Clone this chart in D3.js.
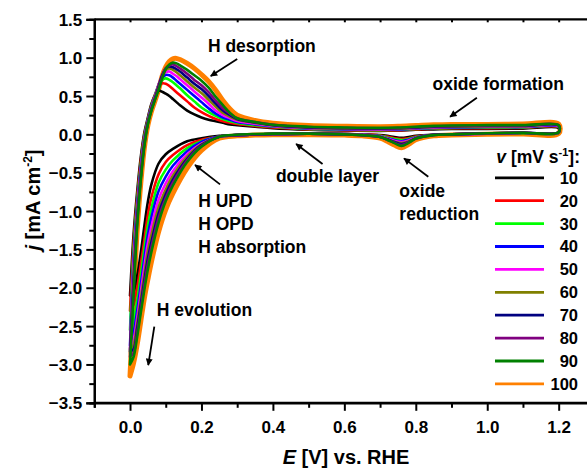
<!DOCTYPE html>
<html>
<head>
<meta charset="utf-8">
<script src="https://cdn.jsdelivr.net/npm/d3@7"></script>
<style>
  html, body { margin: 0; padding: 0; background: #fff; }
  svg { display: block; }
  text { font-family: "Liberation Sans", Arial, sans-serif; font-weight: bold; fill: #000; }
</style>
</head>
<body>
<svg id="chart" width="587" height="470"></svg>
<script>
// ---------------- DATA ----------------
const scanRates = [10, 20, 30, 40, 50, 60, 70, 80, 90, 100];
const seriesColors = ["#000000", "#ff0000", "#00ff00", "#0000ff", "#ff00ff",
                      "#808000", "#000080", "#800080", "#008000", "#ff8000"];

// potential grid of the positive (anodic) scan, V vs. RHE
const E_up = [0.00, 0.01, 0.02, 0.03, 0.04, 0.05, 0.06, 0.07, 0.08, 0.09, 0.10, 0.11, 0.12, 0.13, 0.14,
              0.16, 0.18, 0.20, 0.22, 0.24, 0.26, 0.28, 0.30, 0.35, 0.40, 0.50, 0.60, 0.70, 0.75, 0.80,
              0.85, 0.90, 1.00, 1.10, 1.20];
// potential grid of the negative (cathodic) scan
const E_down = [1.20, 1.10, 1.00, 0.90, 0.85, 0.80, 0.78, 0.76, 0.74, 0.72, 0.70, 0.65, 0.60, 0.50, 0.40,
                0.35, 0.30, 0.25, 0.20, 0.16, 0.12, 0.10, 0.08, 0.06, 0.05, 0.04, 0.03, 0.02, 0.01, 0.00];

// current density j [mA cm-2], positive scan
const jUp10  = [-2.10,-1.30,-0.75,-0.30,0.02,0.22,0.40,0.51,0.57,0.555,0.53,0.50,0.46,0.42,0.38,0.31,0.26,0.22,0.19,0.17,0.15,0.13,0.12,0.10,0.08,0.06,0.05,0.045,0.05,0.06,0.065,0.07,0.07,0.075,0.08];
const jUp20  = [-2.30,-1.40,-0.82,-0.35,-0.01,0.20,0.38,0.52,0.62,0.665,0.66,0.63,0.59,0.55,0.51,0.43,0.35,0.29,0.24,0.20,0.17,0.15,0.135,0.11,0.09,0.065,0.055,0.05,0.055,0.065,0.075,0.08,0.08,0.085,0.09];
const jUp30  = [-2.55,-1.50,-0.88,-0.40,-0.03,0.19,0.37,0.51,0.64,0.71,0.73,0.71,0.68,0.64,0.60,0.51,0.43,0.35,0.29,0.24,0.20,0.17,0.15,0.12,0.10,0.07,0.06,0.055,0.06,0.07,0.08,0.085,0.09,0.09,0.095];
const jUp40  = [-2.75,-1.60,-0.94,-0.44,-0.06,0.18,0.36,0.50,0.65,0.74,0.775,0.77,0.74,0.70,0.66,0.58,0.50,0.42,0.34,0.27,0.22,0.19,0.16,0.13,0.105,0.075,0.065,0.06,0.065,0.075,0.085,0.09,0.095,0.095,0.10];
const jUp50  = [-2.80,-1.70,-1.00,-0.48,-0.08,0.17,0.35,0.49,0.65,0.76,0.81,0.82,0.79,0.76,0.72,0.64,0.56,0.48,0.40,0.31,0.25,0.21,0.175,0.14,0.11,0.08,0.07,0.065,0.07,0.08,0.09,0.095,0.10,0.10,0.105];
const jUp60  = [-2.85,-1.80,-1.05,-0.52,-0.10,0.16,0.34,0.48,0.64,0.77,0.84,0.86,0.84,0.81,0.77,0.69,0.61,0.54,0.45,0.36,0.28,0.23,0.19,0.15,0.115,0.085,0.075,0.07,0.075,0.085,0.095,0.10,0.105,0.105,0.11];
const jUp70  = [-2.83,-1.90,-1.10,-0.55,-0.12,0.15,0.33,0.47,0.62,0.77,0.86,0.885,0.875,0.85,0.82,0.74,0.66,0.59,0.50,0.40,0.31,0.25,0.20,0.155,0.12,0.09,0.08,0.075,0.08,0.09,0.10,0.105,0.11,0.11,0.115];
const jUp80  = [-2.90,-2.00,-1.15,-0.58,-0.14,0.14,0.32,0.46,0.60,0.75,0.86,0.90,0.91,0.89,0.86,0.79,0.71,0.64,0.55,0.44,0.34,0.27,0.21,0.16,0.125,0.095,0.085,0.08,0.085,0.095,0.105,0.11,0.115,0.115,0.12];
const jUp90  = [-3.00,-2.10,-1.20,-0.61,-0.16,0.13,0.31,0.45,0.58,0.73,0.85,0.91,0.935,0.925,0.90,0.84,0.77,0.70,0.61,0.49,0.38,0.28,0.21,0.16,0.125,0.10,0.09,0.085,0.09,0.10,0.11,0.115,0.12,0.12,0.12];
const jUp100 = [-3.15,-2.20,-1.25,-0.64,-0.18,0.12,0.30,0.44,0.58,0.76,0.88,0.95,0.985,0.99,0.975,0.925,0.86,0.78,0.69,0.575,0.44,0.33,0.25,0.18,0.145,0.115,0.105,0.10,0.105,0.115,0.125,0.13,0.13,0.135,0.135];

// current density j [mA cm-2], negative scan
const jDown10  = [0.02,0.015,0.01,0.00,-0.005,-0.02,-0.035,-0.045,-0.035,-0.02,-0.01,0.00,0.005,0.01,0.005,0.00,-0.01,-0.02,-0.05,-0.09,-0.19,-0.26,-0.38,-0.65,-0.88,-1.20,-1.55,-1.85,-2.05,-2.10];
const jDown20  = [0.02,0.015,0.01,0.00,-0.005,-0.03,-0.05,-0.06,-0.05,-0.03,-0.015,0.00,0.005,0.01,0.005,0.00,-0.01,-0.03,-0.07,-0.14,-0.27,-0.36,-0.52,-0.82,-1.05,-1.38,-1.70,-2.00,-2.22,-2.30];
const jDown30  = [0.02,0.015,0.01,0.00,-0.005,-0.035,-0.06,-0.075,-0.06,-0.04,-0.02,-0.005,0.005,0.01,0.005,0.00,-0.01,-0.03,-0.09,-0.18,-0.34,-0.46,-0.63,-0.96,-1.19,-1.50,-1.84,-2.17,-2.42,-2.55];
const jDown40  = [0.025,0.02,0.01,0.00,-0.005,-0.04,-0.07,-0.09,-0.075,-0.05,-0.025,-0.005,0.005,0.01,0.005,0.00,-0.01,-0.03,-0.10,-0.22,-0.41,-0.55,-0.74,-1.08,-1.31,-1.62,-1.97,-2.30,-2.58,-2.75];
const jDown50  = [0.025,0.02,0.01,0.00,-0.005,-0.045,-0.08,-0.10,-0.085,-0.055,-0.03,-0.005,0.005,0.01,0.005,0.00,-0.01,-0.03,-0.12,-0.26,-0.48,-0.64,-0.85,-1.20,-1.42,-1.73,-2.07,-2.40,-2.68,-2.80];
const jDown60  = [0.025,0.02,0.015,0.00,-0.005,-0.05,-0.09,-0.115,-0.095,-0.06,-0.03,-0.01,0.005,0.01,0.005,0.00,-0.01,-0.03,-0.13,-0.29,-0.54,-0.72,-0.95,-1.31,-1.52,-1.83,-2.15,-2.47,-2.75,-2.85];
const jDown70  = [0.03,0.02,0.015,0.00,-0.005,-0.05,-0.10,-0.125,-0.10,-0.065,-0.035,-0.01,0.00,0.01,0.005,0.00,-0.01,-0.03,-0.14,-0.32,-0.59,-0.78,-1.03,-1.40,-1.62,-1.91,-2.22,-2.53,-2.80,-2.83];
const jDown80  = [0.03,0.02,0.015,0.00,-0.01,-0.055,-0.105,-0.14,-0.11,-0.07,-0.035,-0.01,0.00,0.01,0.005,0.00,-0.01,-0.03,-0.15,-0.34,-0.63,-0.83,-1.09,-1.47,-1.69,-1.97,-2.28,-2.59,-2.85,-2.90];
const jDown90  = [0.03,0.02,0.015,0.00,-0.01,-0.055,-0.11,-0.15,-0.115,-0.07,-0.035,-0.01,0.00,0.01,0.01,0.005,-0.005,-0.03,-0.16,-0.36,-0.67,-0.87,-1.15,-1.53,-1.76,-2.03,-2.33,-2.64,-2.90,-3.00];
const jDown100 = [0.01,0.005,0.00,-0.01,-0.02,-0.07,-0.13,-0.175,-0.14,-0.09,-0.05,-0.02,-0.01,-0.005,-0.005,-0.01,-0.02,-0.05,-0.21,-0.44,-0.77,-0.98,-1.27,-1.66,-1.89,-2.14,-2.44,-2.74,-2.98,-3.15];

const xTickValues = [0.0, 0.2, 0.4, 0.6, 0.8, 1.0, 1.2];
const yTickValues = [-3.5, -3.0, -2.5, -2.0, -1.5, -1.0, -0.5, 0.0, 0.5, 1.0, 1.5];

// annotations: text lines, anchor (E, j)
const annotTexts = [
  { lines: ["H desorption"], E: 0.218, j: 1.073, anchor: "start" },
  { lines: ["oxide formation"], E: 0.847, j: 0.578, anchor: "start" },
  { lines: ["double layer"], E: 0.697, j: -0.622, anchor: "end" },
  { lines: ["oxide", "reduction"], E: 0.754, j: -0.814, anchor: "start" },
  { lines: ["H UPD", "H OPD", "H absorption"], E: 0.191, j: -0.948, anchor: "start" },
  { lines: ["H evolution"], E: 0.075, j: -2.369, anchor: "start" }
];
// arrows: from (E,j) to (E,j)
const arrowFrom = [[0.300, 0.982], [0.971, 0.477], [0.539, -0.387], [0.835, -0.553], [0.252, -0.652], [0.068, -2.508]];
const arrowTo   = [[0.226, 0.760], [0.896, 0.229], [0.465, -0.126], [0.767, -0.313], [0.182, -0.400], [0.051, -3.008]];

// ---------------- BUILD ----------------
const jUp = [jUp10, jUp20, jUp30, jUp40, jUp50, jUp60, jUp70, jUp80, jUp90, jUp100];
const jDown = [jDown10, jDown20, jDown30, jDown40, jDown50, jDown60, jDown70, jDown80, jDown90, jDown100];
const series = scanRates.map((v, i) => ({
  v, color: seriesColors[i],
  points: E_up.map((e, k) => [e, jUp[i][k]]).concat(E_down.map((e, k) => [e, jDown[i][k]]))
}));

const svg = d3.select("#chart");
const x = d3.scaleLinear().domain([-0.1, 1.3]).range([94.3, 594.4]);
const y = d3.scaleLinear().domain([-3.5, 1.5]).range([402.8, 19.3]);

const line = d3.line().x(d => x(d[0])).y(d => y(d[1])).curve(d3.curveCatmullRom.alpha(0.5));

// thick 100 mV/s curve underneath, the others on top
const order = [9, 0, 1, 2, 3, 4, 5, 6, 7, 8];
svg.append("g").selectAll("path").data(order.map(i => series[i])).join("path")
  .attr("d", d => line(d.points))
  .attr("fill", "none")
  .attr("stroke", d => d.color)
  .attr("stroke-width", d => d.v === 100 ? 5 : 2.6)
  .attr("stroke-linejoin", "round")
  .attr("stroke-linecap", "round");

// axes
const xMinor = d3.range(-0.1, 1.31, 0.1).map(v => +v.toFixed(2)).filter(v => !xTickValues.some(t => Math.abs(t - v) < 1e-6));
const yMinor = d3.range(-3.25, 1.5, 0.5).map(v => +v.toFixed(2));

const xAxis = svg.append("g").attr("transform", `translate(0,${y(-3.5)})`)
  .call(d3.axisBottom(x).tickValues(xTickValues).tickSize(8).tickPadding(10).tickFormat(d3.format(".1f")));
const xAxisMinor = svg.append("g").attr("transform", `translate(0,${y(-3.5)})`)
  .call(d3.axisBottom(x).tickValues(xMinor).tickSize(5).tickFormat(""));
const yAxis = svg.append("g").attr("transform", `translate(${x(-0.1)},0)`)
  .call(d3.axisLeft(y).tickValues(yTickValues).tickSize(8).tickPadding(4).tickFormat(d3.format(".1f")));
const yAxisMinor = svg.append("g").attr("transform", `translate(${x(-0.1)},0)`)
  .call(d3.axisLeft(y).tickValues(yMinor).tickSize(5).tickFormat(""));
// top axis (ticks only)
const xTop = svg.append("g").attr("transform", `translate(0,${y(1.5)})`)
  .call(d3.axisBottom(x).tickValues(d3.range(0, 1.31, 0.1).map(v => +v.toFixed(2))).tickSize(3).tickFormat(""));

[xAxis, xAxisMinor, yAxis, yAxisMinor, xTop].forEach(g => {
  g.select(".domain").attr("stroke", "#000").attr("stroke-width", 2.2);
  g.selectAll(".tick line").attr("stroke", "#000").attr("stroke-width", 2);
  g.selectAll(".tick text").attr("font-size", 17).attr("font-weight", "bold")
    .attr("font-family", '"Liberation Sans", Arial, sans-serif').attr("fill", "#000");
});
xTop.select(".domain").attr("d", `M${x(-0.1)},0H587`);
xAxis.select(".domain").attr("d", `M${x(-0.1)},0H587`);
yAxis.selectAll(".tick text").attr("dy", "0.36em");

// axis titles
const xt = svg.append("text").attr("x", 346).attr("y", 464).attr("text-anchor", "middle").attr("font-size", 20);
xt.append("tspan").attr("font-style", "italic").text("E");
xt.append("tspan").text(" [V] vs. RHE");

const yt = svg.append("text").attr("transform", "translate(40,200) rotate(-90)").attr("text-anchor", "middle").attr("font-size", 20);
yt.append("tspan").attr("font-style", "italic").text("j");
yt.append("tspan").text(" [mA cm");
yt.append("tspan").attr("font-size", 12).attr("dy", -8).text("-2");
yt.append("tspan").attr("dy", 8).text("]");

// annotations
annotTexts.forEach(a => {
  const t = svg.append("text").attr("font-size", 17.5).attr("text-anchor", a.anchor);
  a.lines.forEach((ln, i) => {
    t.append("tspan").attr("x", x(a.E)).attr("y", y(a.j) + i * 23).text(ln);
  });
});

svg.append("defs").append("marker")
  .attr("id", "ah").attr("viewBox", "0 0 10 10").attr("refX", 9).attr("refY", 5)
  .attr("markerWidth", 9).attr("markerHeight", 7).attr("markerUnits", "userSpaceOnUse")
  .attr("orient", "auto")
  .append("path").attr("d", "M0,0L10,5L0,10Z").attr("fill", "#000");

svg.append("g").selectAll("line").data(arrowFrom.map((f, i) => [f, arrowTo[i]])).join("line")
  .attr("x1", d => x(d[0][0])).attr("y1", d => y(d[0][1]))
  .attr("x2", d => x(d[1][0])).attr("y2", d => y(d[1][1]))
  .attr("stroke", "#000").attr("stroke-width", 1.8)
  .attr("marker-end", "url(#ah)");

// legend
const lg = svg.append("g");
const lt = lg.append("text").attr("x", 580).attr("y", 163).attr("text-anchor", "end").attr("font-size", 17.5);
lt.append("tspan").attr("font-style", "italic").text("v");
lt.append("tspan").text(" [mV s");
lt.append("tspan").attr("font-size", 11).attr("dy", -7).text("-1");
lt.append("tspan").attr("dy", 7).text("]:");

const rowY = i => 177.8 + i * 22.9;
lg.selectAll("line").data(series).join("line")
  .attr("x1", 495).attr("x2", 544)
  .attr("y1", (d, i) => rowY(i)).attr("y2", (d, i) => rowY(i))
  .attr("stroke", d => d.color).attr("stroke-width", 2.8);
lg.selectAll("text.num").data(series).join("text").attr("class", "num")
  .attr("x", 578).attr("y", (d, i) => rowY(i)).attr("dy", "0.36em")
  .attr("text-anchor", "end").attr("font-size", 16.5)
  .text(d => d.v);
</script>
</body>
</html>
